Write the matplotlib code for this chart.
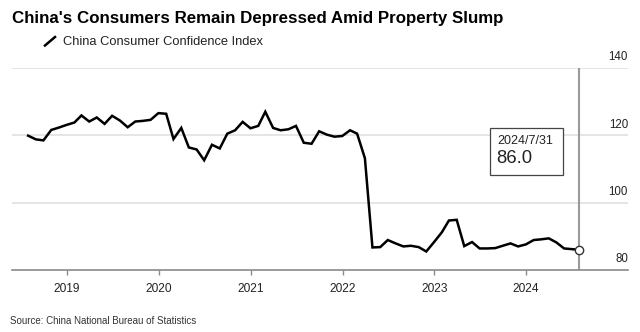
import matplotlib

matplotlib.use("Agg")
import matplotlib.dates as mdates
import matplotlib.pyplot as plt
import pandas as pd
from matplotlib.lines import Line2D
from matplotlib.patches import Rectangle
from matplotlib.transforms import Affine2D

# NBS consumer confidence index, monthly, Jul 2018 - Jul 2024
START = "2018-07-31"
CCI = [
    119.9, 118.8, 118.5, 121.6, 122.3, 123.1,                       # 2018 H2
    123.8, 125.9, 124.1, 125.3, 123.4, 125.8,
    124.4, 122.4, 124.1, 124.3, 124.6, 126.6,                       # 2019
    126.4, 118.9, 122.2, 116.4, 115.8, 112.6,
    117.2, 116.1, 120.5, 121.5, 124.0, 122.1,                       # 2020
    122.8, 127.0, 122.2, 121.5, 121.8, 122.8,
    117.8, 117.5, 121.2, 120.2, 119.6, 119.8,                       # 2021
    121.5, 120.5, 113.2, 86.7, 86.8, 88.9,
    87.9, 87.0, 87.2, 86.8, 85.5, 88.3,                             # 2022
    91.2, 94.7, 94.9, 87.1, 88.3, 86.4,
    86.4, 86.5, 87.2, 87.9, 87.0, 87.6,                             # 2023
    88.9, 89.1, 89.4, 88.2, 86.4, 86.2, 86.0,                       # 2024
]
YEARS = [2019, 2020, 2021, 2022, 2023, 2024]
Y_TICKS = [80, 100, 120, 140]

TITLE = "China's Consumers Remain Depressed Amid Property Slump"
SERIES = "China Consumer Confidence Index"
SOURCE = "Source: China National Bureau of Statistics"

plt.rcParams["font.family"] = ["Liberation Sans", "DejaVu Sans"]

dates = pd.date_range(START, periods=len(CCI), freq="ME")
last_date, last_val = dates[-1], CCI[-1]

W, H = 640, 332
fig = plt.figure(figsize=(W / 100, H / 100), dpi=100)
ax = fig.add_axes([12 / W, 62 / H, 616 / W, 202 / H])

ax.set_xlim(pd.Timestamp("2018-05-28"), pd.Timestamp("2025-02-09"))
ax.set_ylim(80, 140)

# horizontal grid, drawn by hand so the labels can sit on top of each line
for v in Y_TICKS[1:]:
    ax.axhline(v, color="#e3e3e3", lw=1.3, zorder=0)
for v in Y_TICKS:
    ax.annotate(str(v), xy=(1.0, v), xycoords=("axes fraction", "data"),
                xytext=(0, 5.5), textcoords="offset points",
                ha="right", va="baseline", fontsize=8.3, color="#222222",
                annotation_clip=False)

ax.axvline(last_date, color="#9a9a9a", lw=1.5, zorder=1)
ax.plot(dates, CCI, color="black", lw=1.8, solid_joinstyle="miter", zorder=3)
ax.plot([last_date], [last_val], "o", ms=6, mfc="white", mec="#333333",
        mew=1.0, zorder=4)

for s in ("top", "left", "right"):
    ax.spines[s].set_visible(False)
ax.spines["bottom"].set_color("#8a8a8a")
ax.spines["bottom"].set_linewidth(1.2)

ax.set_yticks([])
ax.set_xticks([pd.Timestamp(f"{y}-01-01") for y in YEARS])
ax.xaxis.set_major_formatter(mdates.DateFormatter("%Y"))
ax.tick_params(axis="x", direction="out", length=3.5, width=1.0,
               color="#8a8a8a", pad=6, labelsize=8.6, labelcolor="#222222")

# callout box for the latest reading, placed relative to the last point
fig.canvas.draw()
px, py = ax.transData.transform((mdates.date2num(last_date), last_val))
to_px = Affine2D().translate(px, py)
fig.add_artist(Rectangle((-89, 75), 72.7, 46.7, transform=to_px,
                         fill=True, fc="white", ec="#444444", lw=0.9,
                         zorder=5))
fig.text(px - 82.3, py + 108.3, last_date.strftime("%Y/%-m/%-d"),
         transform=None, ha="left", va="center", fontsize=9.0,
         color="#222222", zorder=6)
fig.text(px - 82.8, py + 91.7, f"{last_val:.1f}", transform=None,
         ha="left", va="center", fontsize=13.3, color="#222222", zorder=6)

fig.text(12 / W, 1 - 18 / H, TITLE, ha="left", va="center",
         fontsize=12.2, fontweight="bold", color="black")
fig.add_artist(Line2D([45 / W, 55 / W], [1 - 45.5 / H, 1 - 37 / H],
                      color="black", lw=1.8))
fig.text(63 / W, 1 - 42 / H, SERIES, ha="left", va="center",
         fontsize=9.3, color="#222222")
fig.text(10 / W, 1 - 321 / H, SOURCE, ha="left", va="center",
         fontsize=7.0, color="#333333")

fig.savefig("out.png", dpi=100)
